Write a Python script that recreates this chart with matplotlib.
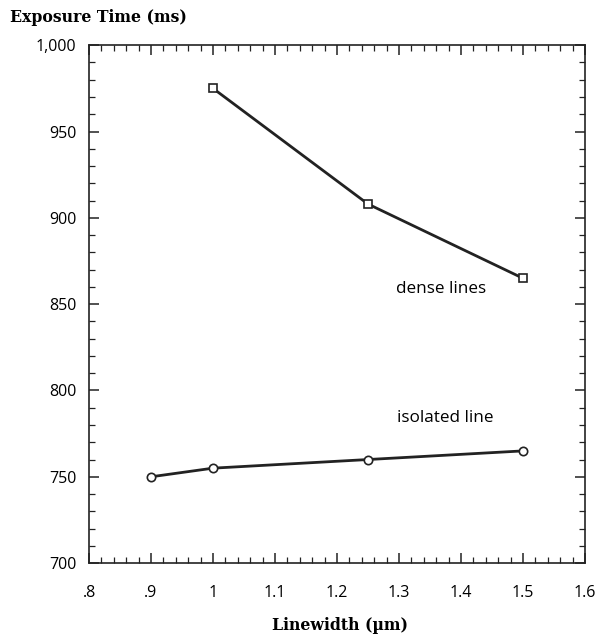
import matplotlib
matplotlib.use("Agg")
import matplotlib.pyplot as plt
from matplotlib.ticker import MultipleLocator, FixedLocator

# Linewidth (um) vs exposure time (ms)
dense_x = [1.0, 1.25, 1.5]
dense_y = [975, 908, 865]
iso_x = [0.9, 1.0, 1.25, 1.5]
iso_y = [750, 755, 760, 765]

x_ticks = [0.8, 0.9, 1.0, 1.1, 1.2, 1.3, 1.4, 1.5, 1.6]
x_labels = [".8", ".9", "1", "1.1", "1.2", "1.3", "1.4", "1.5", "1.6"]
y_ticks = [700, 750, 800, 850, 900, 950, 1000]
y_labels = ["700", "750", "800", "850", "900", "950", "1,000"]

sans = ["Open Sans", "DejaVu Sans"]
serif = ["DejaVu Serif"]

fig = plt.figure(figsize=(6.03, 6.37), dpi=100)
ax = fig.add_axes([0.1476, 0.116, 0.8225, 0.813])

line_kw = dict(color="#222222", lw=2.0, markerfacecolor="white",
               markeredgecolor="#222222", markeredgewidth=1.2, markersize=6)
ax.plot(dense_x, dense_y, marker="s", **line_kw)
ax.plot(iso_x, iso_y, marker="o", **line_kw)

ax.text(1.295, 859, "dense lines", fontsize=12.3, family=sans, va="center")
ax.text(1.297, 784, "isolated line", fontsize=12.3, family=sans, va="center")

ax.set_xlim(0.8, 1.6)
ax.set_ylim(700, 1000)
ax.xaxis.set_major_locator(FixedLocator(x_ticks))
ax.set_xticklabels(x_labels)
ax.yaxis.set_major_locator(FixedLocator(y_ticks))
ax.set_yticklabels(y_labels)
ax.xaxis.set_minor_locator(MultipleLocator(0.02))
ax.yaxis.set_minor_locator(MultipleLocator(10))

ax.tick_params(which="both", direction="in", top=True, right=True,
               color="#222222")
ax.tick_params(which="major", length=7, width=1.1, labelsize=11.5)
ax.tick_params(which="minor", length=4, width=0.9)
ax.tick_params(axis="x", pad=16)
ax.tick_params(axis="y", pad=9)
for lab in ax.get_xticklabels() + ax.get_yticklabels():
    lab.set_family(sans)

for sp in ax.spines.values():
    sp.set_linewidth(1.2)
    sp.set_color("#222222")

fig.text(340 / 603, 1 - 625 / 637, "Linewidth (µm)", fontsize=11.3,
         family=serif, fontweight="bold", ha="center", va="center")
fig.text(10 / 603, 1 - 17 / 637, "Exposure Time (ms)", fontsize=11.3,
         family=serif, fontweight="bold", va="center", ha="left")

fig.savefig("out.png", dpi=100)
